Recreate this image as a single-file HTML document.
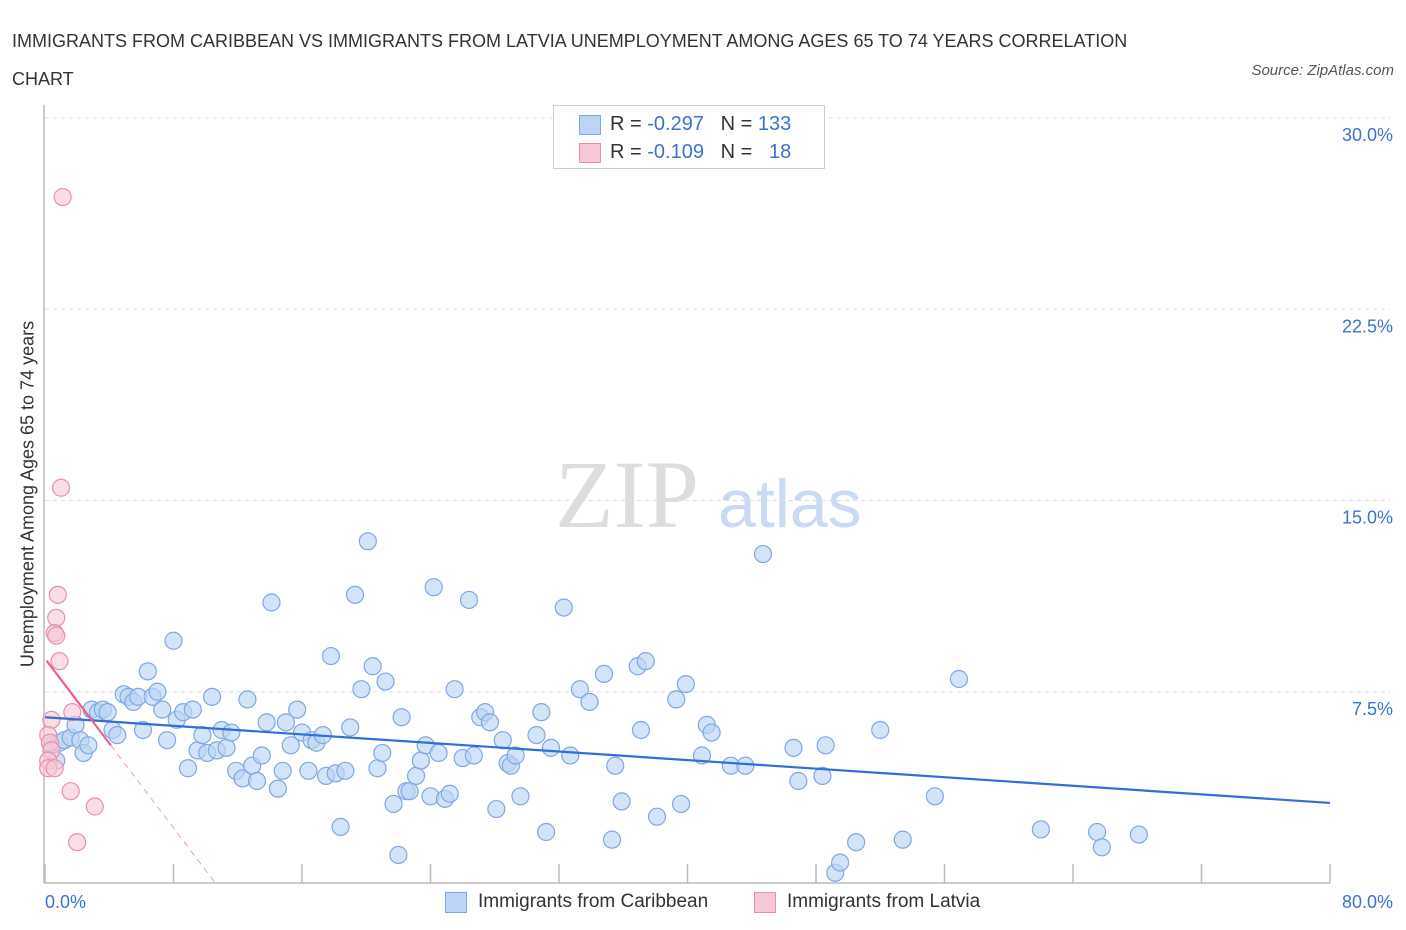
<!DOCTYPE html>
<html><head><meta charset="utf-8"><style>
body{margin:0;background:#fff;font-family:"Liberation Sans",sans-serif;}
#wrap{position:relative;width:1406px;height:930px;overflow:hidden}
.t{position:absolute;white-space:nowrap}
</style></head><body><div id="wrap">
<div class="t" style="left:12px;top:22px;font-size:18px;color:#333;line-height:38px;width:1180px;white-space:normal">IMMIGRANTS FROM CARIBBEAN VS IMMIGRANTS FROM LATVIA UNEMPLOYMENT AMONG AGES 65 TO 74 YEARS CORRELATION CHART</div>
<div class="t" style="right:12px;top:62px;font-size:15px;font-style:italic;color:#555">Source: ZipAtlas.com</div>
<svg id="svg" width="1406" height="930" style="position:absolute;left:0;top:0">
<text x="555" y="527" font-family="Liberation Serif" font-size="96" fill="#ddd">ZIP</text>
<text x="718" y="527" font-family="Liberation Sans" font-size="68" fill="#c9daf2">atlas</text>
</svg>
<div class="t" style="left:28px;top:494px;font-size:18px;color:#333;transform:translate(-50%,-50%) rotate(-90deg)">Unemployment Among Ages 65 to 74 years</div>
<div style="position:absolute;left:553px;top:105px;width:270px;height:62px;border:1px solid #ccc;background:#fff;font-size:20px;color:#333">
<div style="position:absolute;left:25px;top:9px;width:20px;height:18px;background:#bcd4f6;border:1px solid #7fa8e0"></div>
<div class="t" style="left:56px;top:7px">R = <span style="color:#3b73d1">-0.297</span>&nbsp;&nbsp;&nbsp;N = <span style="color:#3b73d1">133</span></div>
<div style="position:absolute;left:25px;top:37px;width:20px;height:18px;background:#f9c6d5;border:1px solid #e890ab"></div>
<div class="t" style="left:56px;top:35px">R = <span style="color:#3b73d1">-0.109</span>&nbsp;&nbsp;&nbsp;N = &nbsp;&nbsp;<span style="color:#3b73d1">18</span></div>
</div>
<div style="position:absolute;left:445px;top:891px;font-size:19px;color:#333">
<div style="position:absolute;left:0;top:1px;width:20px;height:19px;background:#bcd4f6;border:1px solid #7fa8e0"></div><span style="position:absolute;left:33px;top:0;white-space:nowrap">Immigrants from Caribbean</span></div>
<div style="position:absolute;left:754px;top:891px;font-size:19px;color:#333">
<div style="position:absolute;left:0;top:1px;width:20px;height:19px;background:#f9c6d5;border:1px solid #e890ab"></div><span style="position:absolute;left:33px;top:0;white-space:nowrap">Immigrants from Latvia</span></div>
</div>
<script>
const blueX=[.4,.7,.9,1.2,1.6,1.9,2.2,2.4,2.7,2.9,3.3,3.6,3.9,4.2,4.5,4.9,5.2,5.5,5.8,6.1,6.4,6.7,7.0,7.3,7.6,8.0,8.2,8.6,8.9,9.2,9.5,9.8,10.1,10.4,10.7,11.0,11.3,11.6,11.9,12.3,12.6,12.9,13.2,13.5,13.8,14.1,14.5,14.8,15.0,15.3,15.7,16.0,16.4,16.6,16.9,17.3,17.5,17.8,18.1,18.4,18.7,19.0,19.3,19.7,20.1,20.4,20.7,21.0,21.2,21.7,22.0,22.2,22.5,22.7,23.1,23.4,23.7,24.0,24.2,24.5,24.9,25.2,25.5,26.0,26.4,26.7,27.1,27.4,27.7,28.1,28.5,28.8,29.0,29.3,29.6,30.6,30.9,31.2,31.5,32.3,32.7,33.3,33.9,34.8,35.3,35.5,35.9,36.9,37.1,37.4,38.1,39.3,39.6,39.9,40.9,41.2,41.5,42.7,43.6,44.7,46.6,46.9,48.4,48.6,49.2,49.5,50.5,52.0,53.4,55.4,56.9,62.0,65.5,65.8,68.1];
const blueY=[5.4,4.8,5.5,5.6,5.7,6.2,5.6,5.1,5.4,6.8,6.7,6.8,6.7,6.0,5.8,7.4,7.3,7.1,7.3,6.0,8.3,7.3,7.5,6.8,5.6,9.5,6.4,6.7,4.5,6.8,5.2,5.8,5.1,7.3,5.2,6.0,5.3,5.9,4.4,4.1,7.2,4.6,4.0,5.0,6.3,11.0,3.7,4.4,6.3,5.4,6.8,5.9,4.4,5.6,5.5,5.8,4.2,8.9,4.3,2.2,4.4,6.1,11.3,7.6,13.4,8.5,4.5,5.1,7.9,3.1,1.1,6.5,3.6,3.6,4.2,4.8,5.4,3.4,11.6,5.1,3.3,3.5,7.6,4.9,11.1,5.0,6.5,6.7,6.3,2.9,5.6,4.7,4.6,5.0,3.4,5.8,6.7,2.0,5.3,10.8,5.0,7.6,7.1,8.2,1.7,4.6,3.2,8.5,6.0,8.7,2.6,7.2,3.1,7.8,5.0,6.2,5.9,4.6,4.6,12.9,5.3,4.0,4.2,5.4,0.4,0.8,1.6,6.0,1.7,3.4,8.0,2.1,2.0,1.4,1.9];
const pinkX=[1.1,1.0,.8,.7,.6,.7,.9,.4,1.7,.2,.3,.4,.2,.2,.6,1.6,3.1,2.0];
const pinkY=[26.9,15.5,11.3,10.4,9.8,9.7,8.7,6.4,6.7,5.8,5.5,5.2,4.8,4.5,4.5,3.6,3.0,1.6];
const yTicks=[7.5,15,22.5,30];
const yTickLabels=["7.5%","15.0%","22.5%","30.0%"];
const xTicks=[0,8,16,24,32,40,48,56,64,72,80];
const blueTrend=[6.5,3.14];
const pinkTrend=[8.8,-0.83];
const X=v=>45+v*(1285/80), Y=v=>883-v*25.5;
const svg=document.getElementById('svg');const NS='http://www.w3.org/2000/svg';
function mk(t,a){const e=document.createElementNS(NS,t);for(const k in a)e.setAttribute(k,a[k]);svg.appendChild(e);return e;}
yTicks.forEach((v,i)=>{
 const g=mk('line',{x1:45,x2:1390,y1:Y(v),y2:Y(v),stroke:'#ddd','stroke-dasharray':'4,4'});
 
 
 const t=mk('text',{x:1393,y:Y(v)+23,'text-anchor':'end','font-size':18,fill:'#3b73d1','font-family':'Liberation Sans'});
 t.textContent=yTickLabels[i];
 
 
});
xTicks.forEach(v=>{const l=mk('line',{x1:X(v),x2:X(v),y1:864,y2:883,stroke:'#bbb','stroke-width':1.5});
 
 });
const ax=mk('line',{x1:44,x2:1330,y1:883,y2:883,stroke:'#bbb','stroke-width':1.5});


const ay=mk('line',{x1:44,x2:44,y1:105,y2:883,stroke:'#bbb','stroke-width':1.5});


const xl0=mk('text',{x:45,y:908,'font-size':18,fill:'#3b73d1','font-family':'Liberation Sans'});xl0.textContent='0.0%';


const xl1=mk('text',{x:1393,y:908,'text-anchor':'end','font-size':18,fill:'#3b73d1','font-family':'Liberation Sans'});xl1.textContent='80.0%';


blueX.forEach((x,i)=>{const c=mk('circle',{cx:X(x),cy:Y(blueY[i]),r:8.5,fill:'#bcd4f6','fill-opacity':0.65,stroke:'#7fa8e0','stroke-width':1.2});
 
 });
pinkX.forEach((x,i)=>{const c=mk('circle',{cx:X(x),cy:Y(pinkY[i]),r:8.5,fill:'#f9c6d5','fill-opacity':0.6,stroke:'#e890ab','stroke-width':1.2});
 
 });
const bt=mk('line',{x1:X(0),y1:Y(blueTrend[0]),x2:X(80),y2:Y(blueTrend[1]),stroke:'#2f6fd6','stroke-width':2.2});


const pf=x=>pinkTrend[0]+pinkTrend[1]*x;
const pt=mk('line',{x1:X(0.1),y1:Y(pf(0.1)),x2:X(4.1),y2:Y(pf(4.1)),stroke:'#e8608a','stroke-width':2.2});


const x0=-pinkTrend[0]/pinkTrend[1];
const pd=mk('line',{x1:X(4.1),y1:Y(pf(4.1)),x2:X(x0),y2:Y(0),stroke:'#e8a0b5','stroke-width':1,'stroke-dasharray':'6,5'});


</script></body></html>
